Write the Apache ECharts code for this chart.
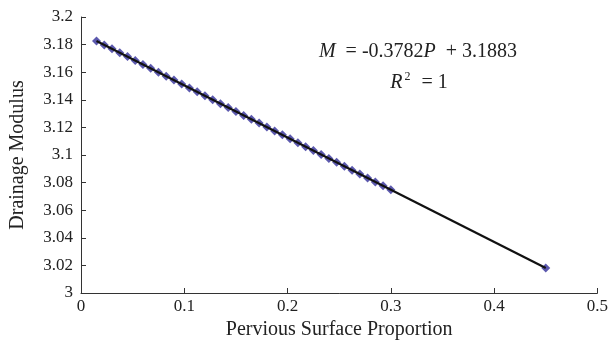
<!DOCTYPE html>
<html>
<head>
<meta charset="utf-8">
<script src="https://cdn.jsdelivr.net/npm/echarts@6/dist/echarts.min.js"></script>
<style>
  html, body { margin: 0; padding: 0; background: #fff; }
  #chart { width: 611px; height: 347px; }
</style>
</head>
<body>
<div id="chart"></div>
<script>
// pervious surface proportion (x) and drainage modulus (y)
const proportion = [
  0.015, 0.0225, 0.03, 0.0375, 0.045, 0.0525, 0.06, 0.0675, 0.075, 0.0825,
  0.09, 0.0975, 0.105, 0.1125, 0.12, 0.1275, 0.135, 0.1425, 0.15, 0.1575,
  0.165, 0.1725, 0.18, 0.1875, 0.195, 0.2025, 0.21, 0.2175, 0.225, 0.2325,
  0.24, 0.2475, 0.255, 0.2625, 0.27, 0.2775, 0.285, 0.2925, 0.30, 0.45
];
const modulus = [
  3.1826, 3.1798, 3.1770, 3.1741, 3.1713, 3.1684, 3.1656, 3.1628, 3.1599, 3.1571,
  3.1543, 3.1514, 3.1486, 3.1458, 3.1429, 3.1401, 3.1372, 3.1344, 3.1316, 3.1287,
  3.1259, 3.1231, 3.1202, 3.1174, 3.1146, 3.1117, 3.1089, 3.1060, 3.1032, 3.1004,
  3.0975, 3.0947, 3.0919, 3.0890, 3.0862, 3.0833, 3.0805, 3.0777, 3.0748, 3.0181
];
// fitted trend line end points
const trendX = [0.015, 0.45];
const trendY = [3.1826, 3.0181];

const font = 'Liberation Serif';
const points = proportion.map((p, i) => [p, modulus[i]]);
const trend = trendX.map((p, i) => [p, trendY[i]]);

const chart = echarts.init(document.getElementById('chart'));
chart.setOption({
  animation: false,
  backgroundColor: '#fff',
  grid: { left: 81, right: 13, top: 17, bottom: 54 },
  xAxis: {
    type: 'value',
    min: 0,
    max: 0.5,
    interval: 0.1,
    name: 'Pervious Surface Proportion',
    nameLocation: 'middle',
    nameGap: 26,
    nameTextStyle: { fontFamily: font, fontSize: 20, color: '#222' },
    axisLine: { lineStyle: { color: '#333', width: 1 } },
    axisTick: { inside: true, length: 5, lineStyle: { color: '#333' } },
    axisLabel: { fontFamily: font, fontSize: 17, color: '#222', margin: 5 },
    splitLine: { show: false }
  },
  yAxis: {
    type: 'value',
    min: 3,
    max: 3.2,
    interval: 0.02,
    name: 'Drainage Modulus',
    nameLocation: 'middle',
    nameGap: 53,
    nameTextStyle: { fontFamily: font, fontSize: 20, color: '#222' },
    axisLine: { show: true, lineStyle: { color: '#333', width: 1 } },
    axisTick: { show: true, inside: true, length: 5, lineStyle: { color: '#333' } },
    axisLabel: {
      fontFamily: font, fontSize: 17, color: '#222', margin: 8,
      formatter: v => String(+v.toFixed(2))
    },
    splitLine: { show: false }
  },
  series: [
    {
      type: 'scatter',
      data: points,
      symbol: 'diamond',
      symbolSize: 9,
      itemStyle: { color: '#33309a' },
      z: 2
    },
    {
      type: 'line',
      data: trend,
      showSymbol: false,
      lineStyle: { color: '#111', width: 2.2 },
      z: 3
    }
  ],
  graphic: [
    {
      type: 'text',
      style: {
        x: 418,
        y: 52,
        align: 'center',
        verticalAlign: 'middle',
        text: '{i|M}  = -0.3782{i|P}  + 3.1883',
        font: '20px "Liberation Serif"',
        fill: '#222',
        rich: { i: { fontFamily: font, fontStyle: 'italic', fontSize: 20, fill: '#222' } }
      }
    },
    {
      type: 'text',
      style: {
        x: 419,
        y: 83,
        align: 'center',
        verticalAlign: 'middle',
        text: '{i|R}{s|2} = 1',
        font: '20px "Liberation Serif"',
        fill: '#222',
        rich: {
          i: { fontFamily: font, fontStyle: 'italic', fontSize: 20, fill: '#222' },
          s: { fontFamily: font, fontSize: 12, fill: '#222', verticalAlign: 'top', padding: [0, 6, 12, 2] }
        }
      }
    }
  ]
});
</script>
</body>
</html>
